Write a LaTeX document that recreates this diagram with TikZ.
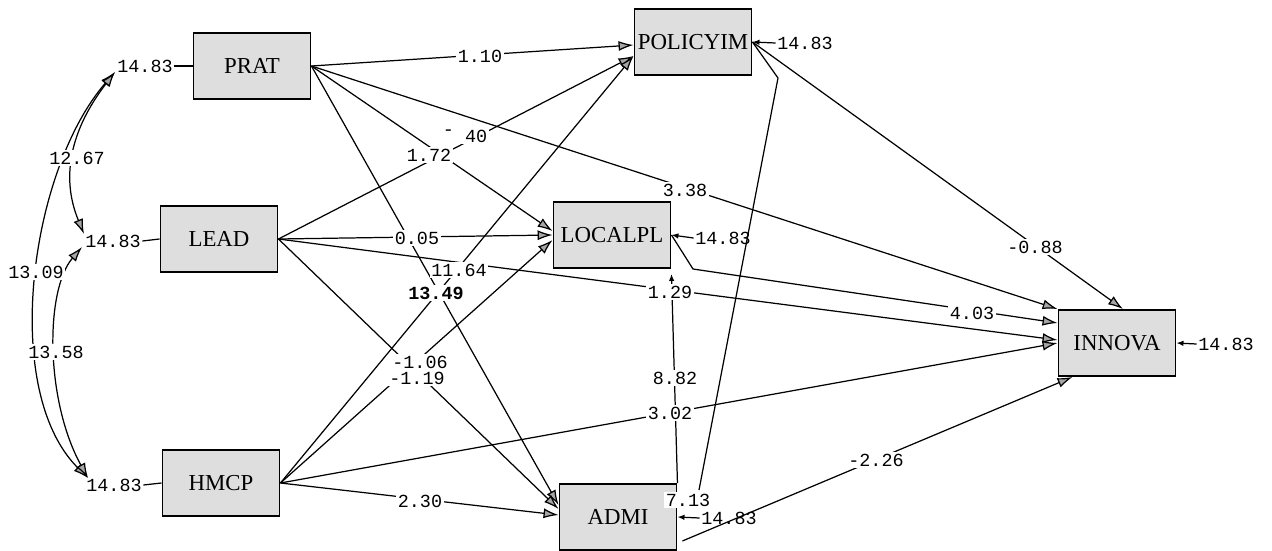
\documentclass[tikz,border=0pt]{standalone}
\usepackage{fontspec}
\setmainfont{Liberation Serif}
\newfontfamily\numfont{Liberation Mono}
\usetikzlibrary{arrows.meta,calc}
\begin{document}
\begin{tikzpicture}[x=0.02cm,y=-0.02cm,
  var/.style={draw,line width=1.1pt,fill=black!13,minimum width=2.34cm,minimum height=1.32cm,inner sep=0pt,font=\fontsize{13}{15}\selectfont},
  lbl/.style={fill=white,inner sep=0.8pt,font=\numfont\fontsize{10.5}{12}\selectfont},
  err/.style={inner sep=0.8pt,font=\numfont\fontsize{10.5}{12}\selectfont},
  tipx/.tip={Latex[length=0.3cm,width=0.2cm,fill=gray!70]},
  tipsm/.tip={Latex[length=0.14cm,width=0.11cm]},
  pth/.style={line width=0.7pt,-tipx},
  cov/.style={line width=0.7pt,tipx-tipx},
  plain/.style={line width=0.7pt},
  earr/.style={line width=0.7pt,-tipsm},
]
\useasboundingbox (0,0) rectangle (1272,551);

% variables
\node[var] (PRAT) at (252,66) {PRAT};
\node[var] (LEAD) at (219,239) {LEAD};
\node[var] (HMCP) at (221,483) {HMCP};
\node[var] (POLICYIM) at (693,42) {POLICYIM};
\node[var] (LOCALPL) at (612,235) {LOCALPL};
\node[var] (ADMI) at (618,517) {ADMI};
\node[var] (INNOVA) at (1117,343) {INNOVA};

% error terms
\node[err] (ePRAT) at (145,66) {14.83};
\node[err] (eLEAD) at (113,241) {14.83};
\node[err] (eHMCP) at (114,485) {14.83};
\node[err] (ePOL) at (805,43) {14.83};
\node[err] (eLOC) at (723,238) {14.83};
\node[err] (eADMI) at (729,518) {14.83};
\node[err] (eINN) at (1226,344) {14.83};

\draw[plain] (ePRAT.east) -- (PRAT.west);
\draw[plain] (eLEAD.east) -- (LEAD.west);
\draw[plain] (eHMCP.east) -- (HMCP.west);
\draw[earr] (ePOL.west) -- (POLICYIM.east);
\draw[earr] (eLOC.west) -- (LOCALPL.east);
\draw[earr] (eADMI.west) -- (ADMI.east);
\draw[earr] (eINN.west) -- (INNOVA.east);

% covariances
\coordinate (cP) at (115,72);
\coordinate (cL1) at (84,234);
\coordinate (cL2) at (82,247);
\coordinate (cH) at (88,478);
\draw[cov] (cP) .. controls (30,170) and (0,390) .. (cH);
\draw[cov] (cP) .. controls (55,150) and (70,200) .. (cL1);
\draw[cov] (cL2) .. controls (45,290) and (45,400) .. (cH);

% structural paths
\coordinate (kLOC) at (693,269);
\coordinate (kPOL) at (778,78);
\coordinate (kADMI) at (699,490);
\draw[pth] (PRAT.east) -- ($(POLICYIM.west)+(0,3)$);
\draw[pth] (LEAD.east) -- ($(POLICYIM.west)+(0,14)$);
\draw[pth] (HMCP.east) -- ($(POLICYIM.west)+(0,14)$);
\draw[pth] (PRAT.east) -- ($(LOCALPL.west)+(0,-4)$);
\draw[pth] (LEAD.east) -- (LOCALPL.west);
\draw[pth] (HMCP.east) -- ($(LOCALPL.west)+(0,5)$);
\draw[pth] (PRAT.east) -- (INNOVA.north west);
\draw[pth] (LOCALPL.east) -- (kLOC) -- ($(INNOVA.west)+(0,-20)$);
\draw[pth] (LEAD.east) -- ($(INNOVA.west)+(0,-3)$);
\draw[pth] (HMCP.east) -- (INNOVA.west);
\draw[pth] (POLICYIM.east) -- ($(INNOVA.north)+(6,0)$);
\draw[pth] ($(ADMI.south east)+(5,-10)$) -- ($(INNOVA.south west)+(15,0)$);
\draw[pth] (PRAT.east) -- ($(ADMI.west)+(0,-12)$);
\draw[pth] (LEAD.east) -- ($(ADMI.west)+(0,-8)$);
\draw[pth] (HMCP.east) -- ($(ADMI.west)+(0,-2)$);
\draw[line width=0.7pt,-tipsm] (ADMI.north east) -- ($(LOCALPL.south east)+(0,5)$);
\draw[plain] (POLICYIM.east) -- (kPOL) -- (kADMI);

% path labels
\node[lbl] (l40) at (465,136) {\raisebox{4pt}{-}\phantom{.}40};
\node[lbl] (l172) at (429,155) {1.72};
\node[lbl] (l110) at (480,56) {1.10};
\node[lbl] (l338) at (685,190) {3.38};
\node[lbl,font=\numfont\bfseries\fontsize{10.5}{12}\selectfont] (l1349) at (436,293) {13.49};
\node[lbl] (l005) at (417,238) {0.05};
\node[lbl] (l129) at (670,292) {1.29};
\node[lbl] (l1164) at (459,270) {11.64};
\node[lbl] (l106) at (420,362) {-1.06};
\node[lbl] (l119) at (417,378) {-1.19};
\node[lbl] (l230) at (420,501) {2.30};
\node[lbl] (l302) at (670,413) {3.02};
\node[lbl] (l088) at (1035,247) {-0.88};
\node[lbl] (l403) at (972,313) {4.03};
\node[lbl] (l226) at (876,460) {-2.26};
\node[lbl] (l882) at (675,378) {8.82};
\node[lbl] (l713) at (688,500) {7.13};

% covariance labels
\node[lbl] (c1267) at (77,158) {12.67};
\node[lbl] (c1309) at (36,272) {13.09};
\node[lbl] (c1358) at (56,352) {13.58};
\end{tikzpicture}
\end{document}
